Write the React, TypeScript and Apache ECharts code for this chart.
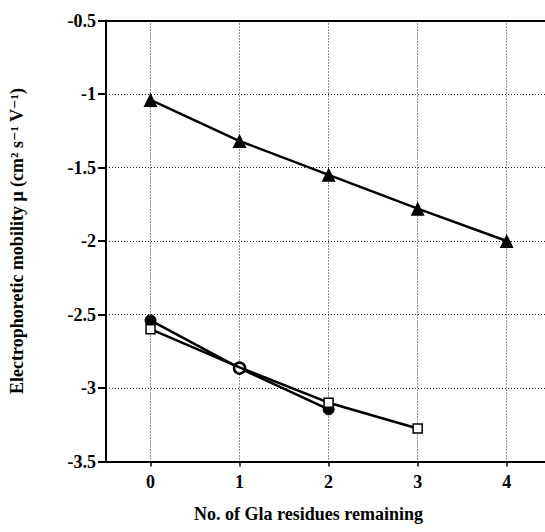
import React, { useEffect, useRef } from "react";
import * as echarts from "echarts";

const xTicks = [0, 1, 2, 3, 4];
const triangleData: [number, number][] = [
  [0, -1.04],
  [1, -1.32],
  [2, -1.55],
  [3, -1.78],
  [4, -2.0],
];
const circleData: [number, number][] = [
  [0, -2.54],
  [1, -2.865],
  [2, -3.145],
];
const circleOpen = [false, true, false];
const squareData: [number, number][] = [
  [0, -2.6],
  [1, -2.86],
  [2, -3.1],
  [3, -3.275],
];
const squareHidden = [false, true, false, false];

const xName = "No. of Gla residues remaining";
const yName = "Electrophoretic mobility \u03bc (cm\u00b2 s\u207b\u00b9 V\u207b\u00b9)";

const FONT = "Liberation Serif, DejaVu Serif, serif";
const X_MIN = -0.5;
const X_MAX = 4.43;

export default function App() {
  const ref = useRef<HTMLDivElement>(null);
  useEffect(() => {
    if (!ref.current) return;
    const chart = echarts.init(ref.current, undefined, { renderer: "svg" });
    const gridLine = { show: true, lineStyle: { color: "#222", width: 1, type: [1, 2] as any } };
    chart.setOption({
      animation: false,
      backgroundColor: "#fff",
      grid: { left: 106, top: 20.5, right: 0, bottom: 70.5, show: false },
      xAxis: [
        {
          type: "value",
          min: X_MIN,
          max: X_MAX,
          splitNumber: 5,
          name: xName,
          nameLocation: "middle",
          nameGap: 43,
          nameTextStyle: { fontFamily: FONT, fontSize: 18, fontWeight: "bold", color: "#000", padding: [0, 34, 0, 0] },
          axisLine: { show: true, onZero: false, lineStyle: { color: "#000", width: 2 } },
          axisTick: { show: true, length: 5, customValues: xTicks, lineStyle: { color: "#000", width: 1.5 } },
          axisLabel: {
            margin: 11,
            fontFamily: FONT,
            fontSize: 18,
            fontWeight: "bold",
            color: "#000",
            customValues: xTicks,
            formatter: (v: number) => (Number.isInteger(v) && xTicks.includes(v) ? String(v) : ""),
          },
          splitLine: gridLine,
        },
        {
          type: "value",
          position: "top",
          min: X_MIN,
          max: X_MAX,
          axisLine: { show: true, onZero: false, lineStyle: { color: "#000", width: 2 } },
          axisTick: { show: false },
          axisLabel: { show: false },
          splitLine: { show: false },
        },
      ],
      yAxis: {
        type: "value",
        min: -3.5,
        max: -0.5,
        interval: 0.5,
        name: yName,
        nameLocation: "middle",
        nameGap: 80,
        nameTextStyle: { fontFamily: FONT, fontSize: 18, fontWeight: "bold", color: "#000" },
        axisLine: { show: true, onZero: false, lineStyle: { color: "#000", width: 2 } },
        axisTick: { show: true, length: 8, lineStyle: { color: "#000", width: 2 } },
        axisLabel: { margin: 10, fontFamily: FONT, fontSize: 18, fontWeight: "bold", color: "#000" },
        splitLine: gridLine,
      },
      series: [
        {
          type: "line",
          data: triangleData,
          symbol: "triangle",
          symbolSize: 14,
          lineStyle: { color: "#000", width: 2.5 },
          itemStyle: { color: "#000" },
          z: 3,
        },
        {
          type: "line",
          data: circleData.map((d, i) => ({
            value: d,
            itemStyle: circleOpen[i]
              ? { color: "#fff", borderColor: "#000", borderWidth: 2.5 }
              : { color: "#000", borderColor: "#000", borderWidth: 1 },
          })),
          symbol: "circle",
          symbolSize: 11,
          showAllSymbol: true,
          lineStyle: { color: "#000", width: 2.5 },
          z: 4,
        },
        {
          type: "line",
          data: squareData.map((d, i) => ({
            value: d,
            symbol: squareHidden[i] ? "none" : "rect",
          })),
          symbol: "rect",
          symbolSize: 9,
          showAllSymbol: true,
          lineStyle: { color: "#000", width: 2.5 },
          itemStyle: { color: "#fff", borderColor: "#000", borderWidth: 1.5 },
          z: 5,
        },
      ],
    });
    return () => chart.dispose();
  }, []);
  return (
    <div
      ref={ref}
      style={{ position: "fixed", left: 0, top: 0, width: 545, height: 532, background: "#fff" }}
    />
  );
}
